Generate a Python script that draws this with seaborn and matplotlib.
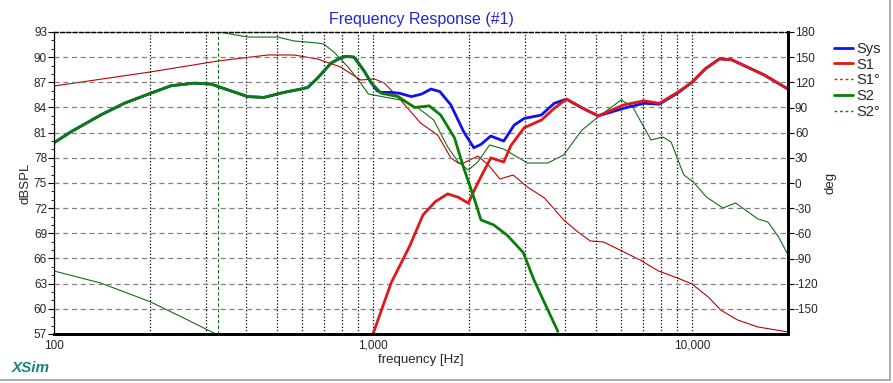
import matplotlib
matplotlib.use('Agg')
from matplotlib import pyplot as plt
from matplotlib.lines import Line2D
from matplotlib.ticker import FixedLocator, MultipleLocator, NullFormatter
import seaborn as sns
import pandas as pd

# Sys (dB)
sys_hz = [100, 113, 140, 166, 201, 233, 275, 310, 351, 405, 455, 526, 595, 625, 670, 739, 790, 823,
          872, 900, 940, 985, 1030, 1060, 1140, 1210, 1320, 1420, 1520, 1620, 1755, 1925, 2070, 2180,
          2340, 2570, 2770, 2980, 3370, 3700, 4040, 4500, 5080, 6100, 7070, 7900, 9000, 10000,
          11000, 12200, 13300, 16800, 20000]
sys_db = [79.8, 81.1, 83.1, 84.5, 85.7, 86.6, 86.9, 86.8, 86.1, 85.3, 85.2, 85.8, 86.2, 86.4, 87.5,
          89.3, 89.9, 90.1, 90.0, 89.3, 88.3, 87.0, 86.0, 85.8, 85.8, 85.7, 85.3, 85.6, 86.2, 85.9,
          84.3, 81.1, 79.2, 79.6, 80.6, 80.0, 81.9, 82.7, 83.1, 84.5, 85.0, 84.0, 83.0, 83.9, 84.5,
          84.4, 85.7, 87.0, 88.6, 89.8, 89.7, 87.9, 86.2]

# S1 (dB)
s1_hz = [1000, 1140, 1300, 1435, 1570, 1715, 1850, 1990, 2130, 2340, 2570, 2710, 2980, 3370,
         3700, 4040, 4500, 5080, 6100, 7070, 7900, 9000, 10000, 11000, 12200, 13300, 16800, 20000]
s1_db = [57.0, 63.1, 67.4, 71.2, 72.8, 73.7, 73.3, 72.6, 75.0, 78.0, 77.5, 79.5, 81.6, 82.5,
         83.9, 85.0, 84.0, 83.0, 84.3, 84.8, 84.5, 85.8, 87.0, 88.6, 89.8, 89.7, 87.9, 86.2]

# S1 phase (deg)
s1_ph_hz = [100, 200, 326, 469, 565, 670, 792, 915, 1010, 1085, 1220, 1410, 1595, 1755, 1850,
            1925, 2130, 2300, 2500, 2750, 3050, 3450, 3960, 4390, 4800, 5280, 6100, 6880, 7850,
            9000, 10000, 11250, 12300, 13900, 16100, 20000]
s1_ph = [115.6, 132.3, 145.4, 152.6, 152.6, 147.8, 138.3, 122.8, 124.0, 119.2, 99.0, 71.5, 57.2,
         29.8, 23.8, 23.8, 32.2, 21.5, 4.8, 9.5, -4.8, -17.9, -44.0, -58.4, -69.1, -70.3, -82.0,
         -91.8, -104.9, -113.2, -120.4, -135.9, -151.4, -163.3, -171.6, -177.6]

# S2 (dB)
s2_hz = [100, 113, 140, 166, 201, 233, 275, 310, 351, 405, 455, 526, 595, 625, 670, 739, 790, 823,
         872, 900, 940, 985, 1060, 1200, 1350, 1500, 1630, 1800, 1925, 2070, 2180, 2390, 2630,
         2960, 3200, 3530, 3800]
s2_db = [79.8, 81.1, 83.1, 84.5, 85.7, 86.6, 86.9, 86.8, 86.1, 85.3, 85.2, 85.8, 86.2, 86.4, 87.5,
         89.3, 89.9, 90.1, 90.0, 89.3, 88.3, 87.0, 85.7, 85.3, 84.0, 84.2, 83.1, 80.4, 76.8, 73.3,
         70.6, 70.0, 68.8, 66.7, 63.4, 59.9, 57.3]

# S2 phase (deg), wraps from -180 to +180 near 326 Hz
s2_ph_low_hz = [100, 140, 201, 255, 317, 322]
s2_ph_low = [-104.9, -119.2, -141.8, -160.9, -178.8, -180.0]
s2_ph_wrap_hz = 326
s2_ph_hz = [329, 405, 503, 565, 670, 700, 754, 835, 900, 967, 1085, 1220, 1385, 1550, 1715,
            1850, 1990, 2130, 2320, 2570, 3050, 3530, 3960, 4520, 5080, 6000, 6520, 7440, 8100,
            8600, 9240, 9440, 10100, 11100, 12500, 13700, 16100, 17300, 18700, 20000]
s2_ph = [180.0, 174.0, 174.0, 169.3, 166.9, 165.7, 156.2, 138.3, 122.8, 106.1, 102.5, 99.0, 89.4,
         75.1, 42.9, 25.0, 15.5, 25.0, 45.3, 40.5, 23.8, 23.8, 33.4, 63.2, 78.7, 99.0, 90.6, 51.3,
         54.8, 48.9, 18.0, 9.5, 1.2, -16.7, -29.8, -23.8, -42.9, -46.5, -64.4, -85.8]

db_ticks = list(range(57, 94, 3))
deg_ticks = list(range(-150, 181, 30))
freq_labels = {100: '100', 1000: '1,000', 10000: '10,000'}

BLUE = '#1010f0'
RED = '#e01818'
DRED = '#c00000'
GREEN = '#0a7d0a'
DGREEN = '#107010'

sns.set_style('white')
plt.rcParams['font.family'] = ['Liberation Sans', 'DejaVu Sans']
plt.rcParams['axes.unicode_minus'] = False

fig = plt.figure(figsize=(8.93, 3.83), dpi=100)
ax = fig.add_axes([54 / 893, 1 - 334 / 383, (788 - 54) / 893, (334 - 32) / 383])
ax2 = ax.twinx()
ax.set_zorder(ax2.get_zorder() + 1)
ax.patch.set_visible(False)

thick = 2.0
thin = 0.8

# phase curves (thin) on the right axis
sns.lineplot(data=pd.DataFrame({'f': s1_ph_hz, 'v': s1_ph}), x='f', y='v', ax=ax2,
             color=DRED, lw=thin)
sns.lineplot(data=pd.DataFrame({'f': s2_ph_low_hz, 'v': s2_ph_low}), x='f', y='v', ax=ax2,
             color=DGREEN, lw=thin)
sns.lineplot(data=pd.DataFrame({'f': s2_ph_hz, 'v': s2_ph}), x='f', y='v', ax=ax2,
             color=DGREEN, lw=thin)
ax2.vlines(s2_ph_wrap_hz, s2_ph_low[-1], s2_ph[0], color=DGREEN, lw=thin, linestyles=(0, (3, 2)))

# SPL curves (thick) on the left axis
sns.lineplot(data=pd.DataFrame({'f': sys_hz, 'v': sys_db}), x='f', y='v', ax=ax,
             color=BLUE, lw=thick)
sns.lineplot(data=pd.DataFrame({'f': s1_hz, 'v': s1_db}), x='f', y='v', ax=ax,
             color=RED, lw=thick)
sns.lineplot(data=pd.DataFrame({'f': s2_hz, 'v': s2_db}), x='f', y='v', ax=ax,
             color=GREEN, lw=thick)

ax.set_xscale('log')
ax.set_xlim(100, 20000)
ax.set_ylim(57, 93)
ax2.set_ylim(-180, 180)

ax.set_xticks(list(freq_labels))
ax.set_xticklabels(list(freq_labels.values()), fontsize=8.5)
minor_x = [m * d for d in (100, 1000, 10000) for m in range(2, 10) if m * d < 20000]
ax.xaxis.set_minor_locator(FixedLocator(minor_x))
ax.xaxis.set_minor_formatter(NullFormatter())
ax.tick_params(axis='x', which='both', length=0, pad=4)

ax.set_yticks(db_ticks)
ax.set_yticklabels([str(t) for t in db_ticks], fontsize=8.5)
ax.yaxis.set_minor_locator(MultipleLocator(1))
ax.tick_params(axis='y', which='major', length=4, width=0.8, color='black', left=True, pad=1)
ax.tick_params(axis='y', which='minor', length=2, width=0.6, color='black', left=True)

ax2.set_yticks(deg_ticks)
ax2.set_yticklabels([str(t) for t in deg_ticks], fontsize=8.5)
ax2.tick_params(axis='y', length=4, width=0.8, color='black', right=True, pad=1)

ax.grid(True, axis='x', which='both', ls=':', color='black', lw=0.9)
ax.grid(True, axis='y', which='major', ls=(0, (4, 3)), color='#808080', lw=0.9)
ax.grid(False, axis='y', which='minor')
ax2.grid(False)

ax.set_xlabel('frequency [Hz]', fontsize=9.5, labelpad=2)
ax.set_ylabel('dBSPL', fontsize=9.5, labelpad=2)
ax2.set_ylabel('deg', fontsize=9.5, labelpad=4)
ax.set_title('Frequency Response (#1)', color='#2424d8', fontsize=11.5, pad=6)

for a in (ax, ax2):
    a.spines['left'].set_color('black')
    a.spines['left'].set_linewidth(0.8)
    a.spines['top'].set_color('black')
    a.spines['top'].set_linewidth(0.9)
    a.spines['top'].set_linestyle((0, (3, 2)))
    a.spines['bottom'].set_color('black')
    a.spines['bottom'].set_linewidth(2.0)
    a.spines['right'].set_color('black')
    a.spines['right'].set_linewidth(2.0)

handles = [
    Line2D([], [], color=BLUE, lw=thick),
    Line2D([], [], color=RED, lw=thick),
    Line2D([], [], color=RED, lw=1.0, ls=(0, (2, 2))),
    Line2D([], [], color=GREEN, lw=thick),
    Line2D([], [], color=GREEN, lw=1.0, ls=(0, (2, 2))),
]
fig.legend(handles, ['Sys', 'S1', 'S1°', 'S2', 'S2°'], loc='upper left',
           bbox_to_anchor=(828 / 893, 1 - 36 / 383), frameon=False, fontsize=10.5,
           handlelength=1.3, handletextpad=0.25, labelspacing=0.12, borderaxespad=0)

fig.text(12 / 893, 1 - 368 / 383, 'XSim', color='#1a8078', fontsize=11,
         fontweight='bold', fontstyle='italic', va='center', ha='left')

# window frame lines on the right and bottom
fig.add_artist(Line2D([890 / 893, 890 / 893], [1 - 380 / 383, 1], color='#a0a0a0', lw=1.2))
fig.add_artist(Line2D([0, 890 / 893], [1 - 380 / 383, 1 - 380 / 383], color='#a0a0a0', lw=1.2))

fig.savefig('out.png', dpi=100)
